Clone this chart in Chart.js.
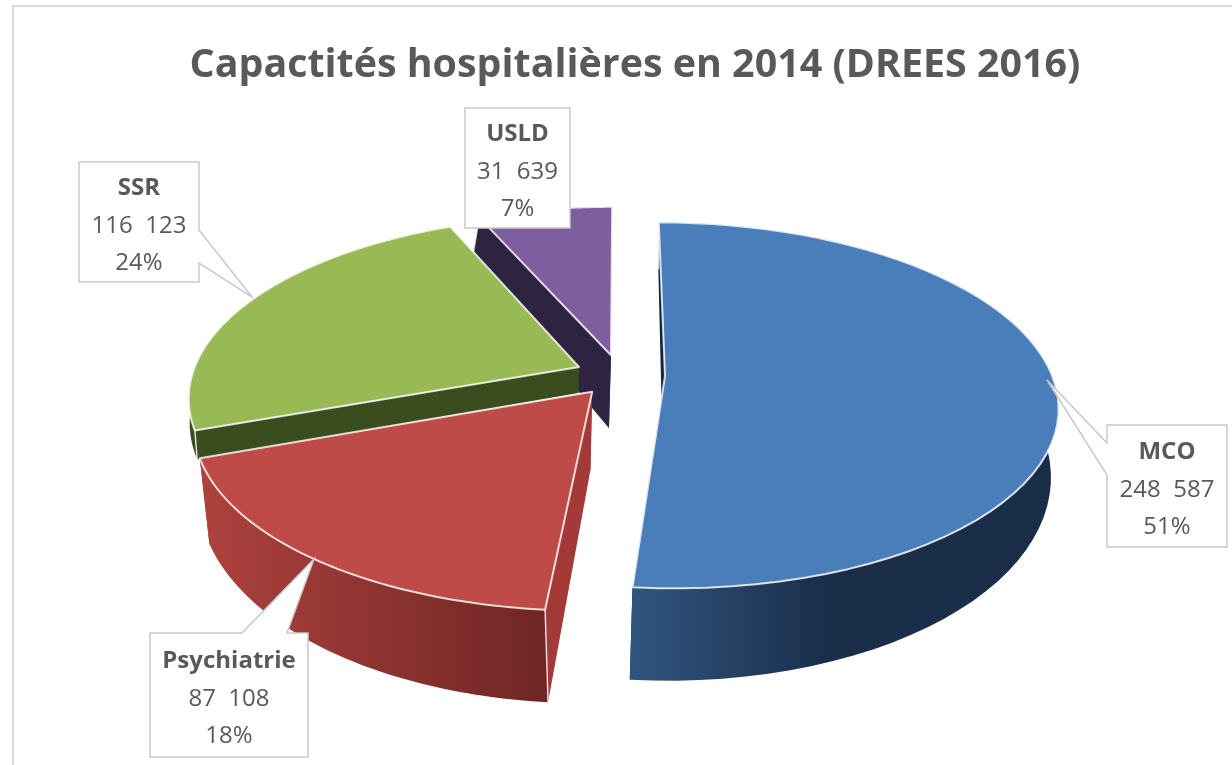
<!DOCTYPE html>
<html>
<head>
<meta charset="utf-8">
<title>Capacités hospitalières</title>
<script src="https://cdn.jsdelivr.net/npm/chart.js@4/dist/chart.umd.js"></script>
<style>
  html, body { margin: 0; padding: 0; background: #fff; }
  #wrap { width: 1232px; height: 765px; }
</style>
</head>
<body>
<div id="wrap"><canvas id="pie3d"></canvas></div>
<script>
var categories = ['MCO', 'Psychiatrie', 'SSR', 'USLD'];
var places = [248587, 87108, 116123, 31639];
var topColors = ['#4a7ebb', '#be4b48', '#98b954', '#7d5fa0'];
var wallLight = ['#30557f', '#ad423e', '#3a4d1f', '#2e2442'];
var wallDark = ['#1a2e4a', '#6f2624', '#3a4d1f', '#2e2442'];
var cutColors = ['#14243b', '#a33a37', '#3a4d1f', '#2e2442'];
var explode = [45, 45, 45, 45];
// how far each slice is extruded towards the bottom plane
var depth = [1, 1, 0.35, 1];

// tilted disc: top and bottom planes of the cake, in fractions of the radius
var topPlane = { sx: 1, sy: 0.46, k: 0.16, dx: 0, dy: 0 };
var bottomPlane = { sx: 0.995, sy: 0.525, k: 0.11, dx: -2, dy: 76 };

// callout boxes: x, y, w, h and the leader wedge
var callouts = [
  { x: 1107, y: 425, w: 120, h: 122, side: 'left', tip: [1047, 380], from: 443, to: 475 },
  { x: 150, y: 633, w: 158, h: 124, side: 'top', tip: [314, 559], from: 242, to: 287 },
  { x: 79, y: 162, w: 120, h: 120, side: 'right', tip: [252, 297], from: 230, to: 263 },
  { x: 465, y: 108, w: 105, h: 120 }
];

var fontFamily = '"Open Sans", sans-serif';
var textColor = '#595959';

function project(el, plane, u, v) {
  var w = 1 + plane.k * v;
  return {
    x: el.x + plane.dx + el.outerRadius * plane.sx * u / w,
    y: el.y + plane.dy - el.outerRadius * plane.sy * v / w
  };
}

function lerpPoint(a, b, t) {
  return { x: a.x + (b.x - a.x) * t, y: a.y + (b.y - a.y) * t };
}

// arc element drawn as a slice of a tilted cake
class Arc3D extends Chart.ArcElement {
  draw(ctx) {
    var el = this.getProps(['x', 'y', 'startAngle', 'endAngle', 'outerRadius']);
    var i = this.sliceIndex;
    var mid = (el.startAngle + el.endAngle) / 2;
    var off = this.options.offset / el.outerRadius;
    var u0 = Math.cos(mid) * off;
    var v0 = -Math.sin(mid) * off;
    var steps = 60;
    var top = [], bottom = [];
    for (var s = 0; s <= steps; s++) {
      var a = el.startAngle + (el.endAngle - el.startAngle) * s / steps;
      var u = u0 + Math.cos(a);
      var v = v0 - Math.sin(a);
      var p = project(el, topPlane, u, v);
      top.push(p);
      bottom.push(lerpPoint(p, project(el, bottomPlane, u, v), depth[i]));
    }
    var apexTop = project(el, topPlane, u0, v0);
    var apexBottom = lerpPoint(apexTop, project(el, bottomPlane, u0, v0), depth[i]);

    ctx.save();
    ctx.lineJoin = 'round';

    // the two cut faces
    ctx.fillStyle = cutColors[i];
    [0, steps].forEach(function(n) {
      ctx.beginPath();
      ctx.moveTo(apexTop.x, apexTop.y);
      ctx.lineTo(top[n].x, top[n].y);
      ctx.lineTo(bottom[n].x, bottom[n].y);
      ctx.lineTo(apexBottom.x, apexBottom.y);
      ctx.closePath();
      ctx.fill();
    });

    // outer wall
    var xs = top.map(function(p) { return p.x; });
    var grad = ctx.createLinearGradient(Math.min.apply(null, xs), 0, Math.max.apply(null, xs), 0);
    grad.addColorStop(0, wallLight[i]);
    grad.addColorStop(i === 0 ? 0.45 : 1, wallDark[i]);
    grad.addColorStop(1, wallDark[i]);
    ctx.fillStyle = grad;
    ctx.beginPath();
    top.forEach(function(p, n) { n ? ctx.lineTo(p.x, p.y) : ctx.moveTo(p.x, p.y); });
    bottom.slice().reverse().forEach(function(p) { ctx.lineTo(p.x, p.y); });
    ctx.closePath();
    ctx.fill();

    // light edge where the wall starts
    ctx.strokeStyle = 'rgba(255,255,255,0.8)';
    ctx.lineWidth = 1.5;
    ctx.beginPath();
    ctx.moveTo(top[0].x, top[0].y);
    ctx.lineTo(bottom[0].x, bottom[0].y);
    ctx.stroke();

    // top face
    ctx.beginPath();
    ctx.moveTo(apexTop.x, apexTop.y);
    top.forEach(function(p) { ctx.lineTo(p.x, p.y); });
    ctx.closePath();
    ctx.fillStyle = this.options.backgroundColor;
    ctx.fill();
    ctx.strokeStyle = 'rgba(255,255,255,0.8)';
    ctx.lineWidth = 2;
    ctx.stroke();
    ctx.restore();
  }
}
Arc3D.id = 'arc3d';

// draws back to front so nearer slices cover farther ones
class Pie3DController extends Chart.PieController {
  draw() {
    var elements = this._cachedMeta.data;
    for (var i = elements.length - 1; i >= 0; i--) {
      elements[i].sliceIndex = i;
      elements[i].draw(this._ctx, this.chart.chartArea);
    }
  }
}
Pie3DController.id = 'pie3d';
Pie3DController.defaults = { dataElementType: 'arc3d' };

Chart.register(Arc3D, Pie3DController);

var framePlugin = {
  id: 'frame',
  // the title sits a little right of the pie centre
  afterLayout: function(chart) {
    chart.titleBlock.left += 15;
    chart.titleBlock.right += 15;
  },
  beforeDraw: function(chart) {
    var ctx = chart.ctx;
    ctx.save();
    ctx.fillStyle = '#fff';
    ctx.fillRect(0, 0, chart.width, chart.height);
    ctx.strokeStyle = '#d9d9d9';
    ctx.lineWidth = 2;
    ctx.beginPath();
    ctx.moveTo(13, chart.height);
    ctx.lineTo(13, 6);
    ctx.lineTo(chart.width, 6);
    ctx.stroke();
    ctx.restore();
  }
};

function formatPlaces(v) {
  return String(v).replace(/\B(?=(\d{3})+$)/g, '  ');
}

var calloutPlugin = {
  id: 'callouts',
  afterDatasetsDraw: function(chart) {
    var ctx = chart.ctx;
    var total = places.reduce(function(a, b) { return a + b; }, 0);
    ctx.save();
    callouts.forEach(function(c, i) {
      var r = c.x + c.w, b = c.y + c.h;
      ctx.beginPath();
      ctx.moveTo(c.x, c.y);
      if (c.side === 'top') {
        ctx.lineTo(c.from, c.y); ctx.lineTo(c.tip[0], c.tip[1]); ctx.lineTo(c.to, c.y);
      }
      ctx.lineTo(r, c.y);
      if (c.side === 'right') {
        ctx.lineTo(r, c.from); ctx.lineTo(c.tip[0], c.tip[1]); ctx.lineTo(r, c.to);
      }
      ctx.lineTo(r, b);
      ctx.lineTo(c.x, b);
      if (c.side === 'left') {
        ctx.lineTo(c.x, c.to); ctx.lineTo(c.tip[0], c.tip[1]); ctx.lineTo(c.x, c.from);
      }
      ctx.closePath();
      ctx.fillStyle = '#fff';
      ctx.fill();
      ctx.strokeStyle = '#c9c9c9';
      ctx.lineWidth = 1.5;
      ctx.stroke();

      var cx = c.x + c.w / 2;
      var mid = c.y + c.h / 2 + 4;
      ctx.fillStyle = textColor;
      ctx.textAlign = 'center';
      ctx.textBaseline = 'middle';
      ctx.font = '700 24px ' + fontFamily;
      ctx.fillText(categories[i], cx, mid - 37.5);
      ctx.font = '400 24px ' + fontFamily;
      ctx.fillText(formatPlaces(places[i]), cx, mid);
      ctx.fillText(Math.round(places[i] / total * 100) + '%', cx, mid + 37.5);
    });
    ctx.restore();
  }
};

new Chart(document.getElementById('pie3d'), {
  type: 'pie3d',
  data: {
    labels: categories,
    datasets: [{
      data: places,
      backgroundColor: topColors,
      offset: explode,
      radius: 387,
      clip: false
    }]
  },
  options: {
    responsive: true,
    maintainAspectRatio: false,
    animation: false,
    layout: { padding: { left: 8, right: 0, top: 0, bottom: 105 } },
    plugins: {
      legend: { display: false },
      tooltip: { enabled: false },
      title: {
        display: true,
        text: 'Capactités hospitalières en 2014 (DREES 2016)',
        color: textColor,
        font: { family: fontFamily, size: 39.4, weight: '700', lineHeight: 1.2 },
        padding: { top: 42, bottom: 1 }
      }
    }
  },
  plugins: [framePlugin, calloutPlugin]
});
</script>
</body>
</html>
